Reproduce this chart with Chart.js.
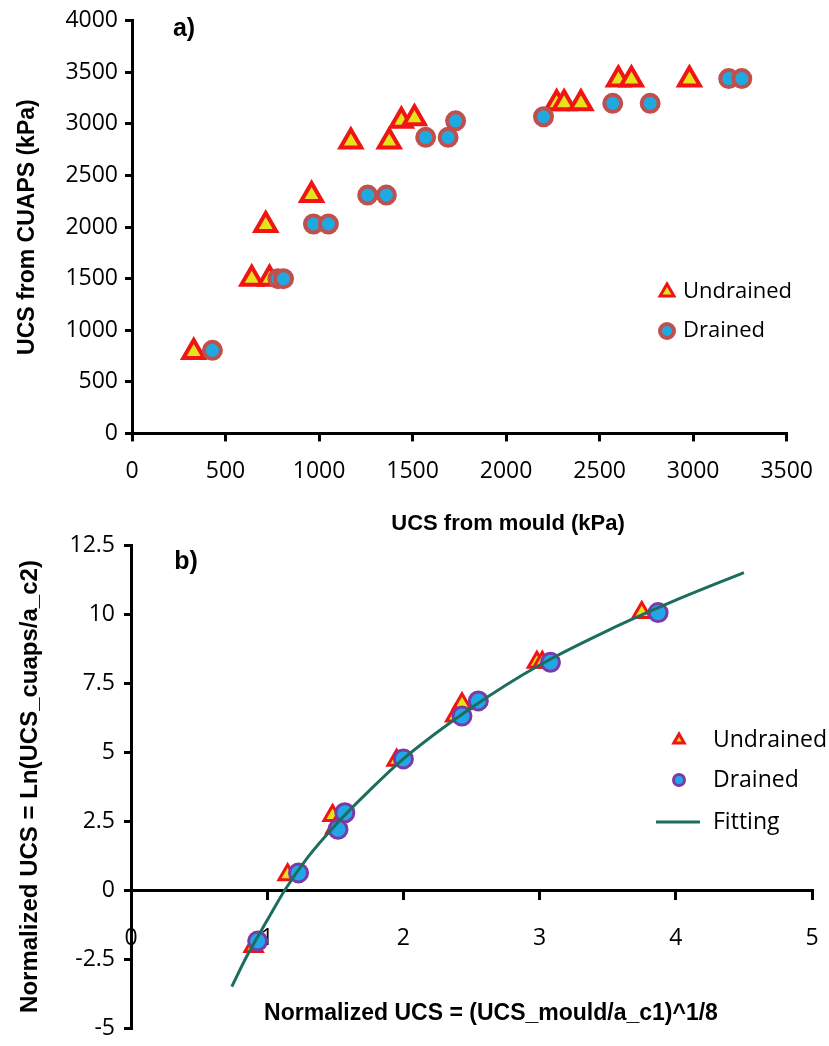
<!DOCTYPE html>
<html>
<head>
<meta charset="utf-8">
<script src="https://cdn.jsdelivr.net/npm/chart.js@4.4.1/dist/chart.umd.min.js"></script>
<style>
  html, body { margin: 0; padding: 0; background: #fff; }
  #wrap { position: relative; width: 829px; height: 1046px; }
  #chartA { position: absolute; left: 0; top: 0; }
  #chartB { position: absolute; left: 0; top: 525px; }
</style>
</head>
<body>
<div id="wrap">
  <canvas id="chartA" width="829" height="540"></canvas>
  <canvas id="chartB" width="829" height="521"></canvas>
</div>
<script>
// a) UCS from mould vs UCS from CUAPS (kPa)
const mouldUndrained = [330, 640, 735, 715, 960, 1170, 1375, 1440, 1510, 2270, 2310, 2400, 2600, 2670, 2980];
const cuapsUndrained = [790, 1500, 1500, 2020, 2310, 2830, 2830, 3030, 3055, 3200, 3200, 3200, 3430, 3430, 3430];
const mouldDrained = [430, 780, 810, 970, 1050, 1260, 1360, 1570, 1690, 1730, 2200, 2570, 2770, 3190, 3260];
const cuapsDrained = [805, 1500, 1500, 2030, 2030, 2310, 2310, 2870, 2870, 3030, 3070, 3200, 3200, 3440, 3440];
const aXTicks = [0, 500, 1000, 1500, 2000, 2500, 3000, 3500];
const aYTicks = [0, 500, 1000, 1500, 2000, 2500, 3000, 3500, 4000];

// b) normalized values
const normMouldUndrained = [0.90, 1.15, 1.48, 1.50, 1.95, 2.43, 2.38, 2.98, 3.02, 3.75];
const normCuapsUndrained = [-2.05, 0.55, 2.7, 2.25, 4.7, 6.75, 6.3, 8.25, 8.25, 10.05];
const normMouldDrained = [0.93, 1.23, 1.57, 1.52, 2.0, 2.55, 2.43, 3.08, 3.87];
const normCuapsDrained = [-1.85, 0.62, 2.8, 2.2, 4.75, 6.85, 6.3, 8.25, 10.05];
const fitX = [0.74, 0.85, 1.0, 1.13, 1.3, 1.5, 1.75, 2.0, 2.5, 3.0, 3.5, 4.0, 4.5];
const fitY = [-3.5, -2.4, -1.1, 0, 1.2, 2.35, 3.6, 4.75, 6.6, 8.15, 9.4, 10.5, 11.5];
const bXTicks = [0, 1, 2, 3, 4, 5];
const bYTicks = [-5, -2.5, 0, 2.5, 5, 7.5, 10, 12.5];

const red = "#f01414";
const yellow = "#e6e21c";
const cyan = "#1fa9e1";

const toPoints = (xs, ys) => xs.map((x, i) => ({ x: x, y: ys[i] }));
const setTicks = list => scale => { scale.ticks = list.map(v => ({ value: v })); };

// axis titles, panel letters and legends drawn on top
const overlay = {
  id: "overlay",
  afterDraw(chart, args, opts) {
    const ctx = chart.ctx;
    ctx.save();
    ctx.fillStyle = "#000";
    ctx.textBaseline = "middle";
    opts.texts.forEach(t => {
      ctx.font = t.font;
      ctx.textAlign = "center";
      ctx.fillText(t.text, t.x, t.y);
    });
    const lg = opts.legend;
    chart.data.datasets.forEach((ds, i) => {
      const y = lg.rows[i];
      if (ds.showLine) {
        ctx.strokeStyle = ds.borderColor;
        ctx.lineWidth = ds.borderWidth;
        ctx.beginPath();
        ctx.moveTo(lg.x - 23, y);
        ctx.lineTo(lg.x + 21, y);
        ctx.stroke();
      } else {
        ctx.fillStyle = ds.pointBackgroundColor;
        ctx.strokeStyle = ds.pointBorderColor;
        ctx.lineWidth = lg.border[i];
        Chart.helpers.drawPoint(ctx, { pointStyle: ds.pointStyle, radius: lg.radius[i], borderWidth: lg.border[i], rotation: 0 }, lg.x, y);
      }
      ctx.fillStyle = "#000";
      ctx.textAlign = "left";
      ctx.font = lg.font;
      ctx.fillText(ds.label, lg.textX, y);
    });
    ctx.restore();
  }
};

const axisStyle = (tickLength, pad, font) => ({
  grid: { drawOnChartArea: false, drawTicks: true, tickLength: tickLength, tickWidth: 3, tickColor: "#000", color: "#000", lineWidth: 3 },
  border: { display: true, color: "#000", width: 3 },
  ticks: { color: "#000", padding: pad, font: font, autoSkip: false, maxRotation: 0, callback: v => String(v) }
});

const tickFont = { family: "Open Sans", size: 23 };

let chartA = new Chart(document.getElementById("chartA"), {
  type: "scatter",
  data: {
    datasets: [
      {
        label: "Undrained",
        data: toPoints(mouldUndrained, cuapsUndrained),
        pointStyle: "triangle",
        pointRadius: 12,
        pointBorderWidth: 4,
        pointBackgroundColor: yellow,
        pointBorderColor: red,
        order: 2
      },
      {
        label: "Drained",
        data: toPoints(mouldDrained, cuapsDrained),
        pointStyle: "circle",
        pointRadius: 8.5,
        pointBorderWidth: 4,
        pointBackgroundColor: cyan,
        pointBorderColor: "#c0504d",
        order: 1
      }
    ]
  },
  options: {
    responsive: false,
    animation: false,
    layout: { padding: { left: 0, top: 17, right: 41, bottom: 39 } },
    plugins: {
      legend: { display: false },
      tooltip: { enabled: false },
      overlay: {
        texts: [
          { text: "a)", x: 184, y: 29, font: "bold 25px 'Liberation Sans'" },
          { text: "UCS from mould (kPa)", x: 508, y: 524, font: "bold 22px 'Liberation Sans'" }
        ],
        legend: { x: 667, textX: 683, rows: [292, 331], radius: [8, 7], border: [3, 4], font: "22px 'Open Sans'" }
      }
    },
    scales: {
      x: Object.assign(axisStyle(8, 16, tickFont), {
        type: "linear", min: 0, max: 3500, afterBuildTicks: setTicks(aXTicks)
      }),
      y: Object.assign(axisStyle(7, 7, tickFont), {
        type: "linear", min: 0, max: 4000, afterBuildTicks: setTicks(aYTicks),
        afterFit: scale => { scale.width = 132; },
        title: {
          display: true, text: "UCS from CUAPS (kPa)", color: "#000",
          font: { family: "Liberation Sans", weight: "bold", size: 23 },
          padding: { top: 14, bottom: 0 }
        }
      })
    }
  },
  plugins: [overlay]
});

let chartB = new Chart(document.getElementById("chartB"), {
  type: "scatter",
  data: {
    datasets: [
      {
        label: "Undrained",
        data: toPoints(normMouldUndrained, normCuapsUndrained),
        pointStyle: "triangle",
        pointRadius: 10,
        pointBorderWidth: 3,
        pointBackgroundColor: yellow,
        pointBorderColor: red,
        order: 3
      },
      {
        label: "Drained",
        data: toPoints(normMouldDrained, normCuapsDrained),
        pointStyle: "circle",
        pointRadius: 9,
        pointBorderWidth: 3,
        pointBackgroundColor: "#22a6e6",
        pointBorderColor: "#7a3aa8",
        order: 2
      },
      {
        label: "Fitting",
        data: toPoints(fitX, fitY),
        showLine: true,
        borderColor: "#1b6e5e",
        borderWidth: 3,
        pointRadius: 0,
        cubicInterpolationMode: "monotone",
        order: 1
      }
    ]
  },
  options: {
    responsive: false,
    animation: false,
    layout: { padding: { left: 0, top: 20, right: 17, bottom: 18 } },
    plugins: {
      legend: { display: false },
      tooltip: { enabled: false },
      overlay: {
        texts: [
          { text: "b)", x: 186, y: 37, font: "bold 25px 'Liberation Sans'" },
          { text: "Normalized UCS = (UCS_mould/a_c1)^1/8", x: 491, y: 489, font: "bold 23px 'Liberation Sans'" }
        ],
        legend: { x: 679, textX: 713, rows: [215, 255, 297], radius: [6, 5.5], border: [3, 3], font: "23px 'Open Sans'" }
      }
    },
    scales: {
      x: Object.assign(axisStyle(8, 27, tickFont), {
        type: "linear", min: 0, max: 5, position: { y: 0 }, afterBuildTicks: setTicks(bXTicks),
        afterFit: scale => { scale.paddingLeft = 0; scale.paddingRight = 0; scale.paddingBottom = 0; scale.paddingTop = 0; }
      }),
      y: Object.assign(axisStyle(7, 9, tickFont), {
        type: "linear", min: -5, max: 12.5, afterBuildTicks: setTicks(bYTicks),
        afterFit: scale => { scale.width = 131; scale.paddingTop = 0; scale.paddingBottom = 0; },
        title: {
          display: true, text: "Normalized UCS = Ln(UCS_cuaps/a_c2)", color: "#000",
          font: { family: "Liberation Sans", weight: "bold", size: 24 },
          padding: { top: 16, bottom: 0 }
        }
      })
    }
  },
  plugins: [overlay]
});
</script>
</body>
</html>
